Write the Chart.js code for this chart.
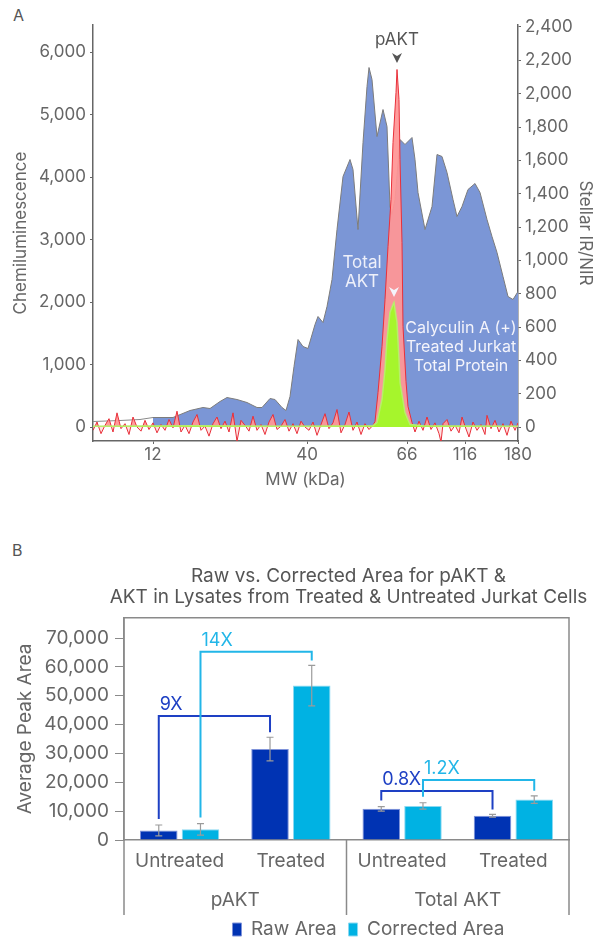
<!DOCTYPE html>
<html>
<head>
<meta charset="utf-8">
<script src="https://cdn.jsdelivr.net/npm/chart.js@4.4.0/dist/chart.umd.min.js"></script>
<style>
  html, body { margin: 0; padding: 0; background: #fff; }
  body { width: 597px; height: 938px; position: relative; overflow: hidden; font-family: Inter, "Noto Sans", sans-serif; }
  .panel { position: absolute; font-size: 16px; color: #555; line-height: 19px; }
  #wrapA { position: absolute; left: 0; top: 0; width: 597px; height: 500px; }
  #wrapB { position: absolute; left: 0; top: 530px; width: 597px; height: 419px; }
</style>
</head>
<body>
<div class="panel" style="left:13px;top:6px">A</div>
<div class="panel" style="left:12px;top:541px">B</div>
<div id="wrapA"><canvas id="chartA" width="597" height="500"></canvas></div>
<div id="wrapB"><canvas id="chartB" width="597" height="419"></canvas></div>
<script>
// ---------- panel A data ----------
// x is relative mobility along the capillary, MW labels sit at fixed marker positions
var mwTickPos = [60, 214, 314, 372, 425];
var mwTickLabels = ['12', '40', '66', '116', '180'];
var chemiTicks = [0, 1000, 2000, 3000, 4000, 5000, 6000];
var irTicks = [0, 200, 400, 600, 800, 1000, 1200, 1400, 1600, 1800, 2000, 2200, 2400];

// trace before the 12 kDa marker (outline only)
var preX = [0, 27, 47, 60];
var preY = [88, 104, 120, 152];

// Total AKT, chemiluminescence
var aktX = [60, 80, 97, 110, 117, 127, 134, 144, 154, 164, 169, 177, 182, 189, 193, 197, 201, 205, 210, 215,
  222, 225, 230, 234, 239, 244, 250, 257, 260, 265, 270, 274, 276, 279, 284, 290, 294, 297, 299, 302,
  307, 312, 319, 322, 325, 332, 339, 344, 349, 354, 360, 364, 369, 375, 382, 387, 394, 399, 404, 410,
  415, 420, 425];
var aktY = [152, 152, 264, 312, 296, 408, 472, 440, 392, 312, 312, 456, 440, 312, 264, 488, 968, 1400, 1288, 1256,
  1640, 1768, 1672, 1928, 2360, 3160, 4008, 4280, 4120, 3160, 4552, 5448, 5752, 5560, 4648, 5080, 4808, 3528, 3400, 3640,
  4600, 4520, 4632, 4280, 3752, 3160, 3528, 4360, 4328, 4072, 3640, 3368, 3528, 3800, 3896, 3752, 3320, 3048, 2792, 2408,
  2088, 2040, 2168];

// pAKT, Stellar IR/NIR
var pAktX = [0, 4, 8, 12, 16, 20, 24, 28, 32, 36, 40, 44, 48, 52, 56, 60, 64, 68, 72, 76,
  80, 84, 88, 92, 96, 100, 104, 108, 112, 116, 120, 124, 128, 132, 136, 140, 144, 148, 152, 156,
  160, 164, 168, 172, 176, 180, 184, 188, 192, 196, 200, 204, 208, 212, 216, 220, 224, 228, 232, 236,
  240, 244, 248, 252, 256, 260, 264, 268, 272, 276, 280,
  282, 285, 289, 292, 295, 298, 300, 303, 304, 306, 307, 309, 310, 313, 315, 319,
  322, 326, 330, 334, 338, 342, 346, 348, 350, 354, 358, 362, 366, 369, 372, 376, 380, 384, 388, 392,
  394, 398, 402, 406, 410, 414, 418, 422, 425];
var pAktY = [-20, 30, -40, 10, 50, -30, 85, -10, 20, -45, 60, 0, -25, 40, -15, 25, -35, 15, -20, 45,
  -5, 95, -30, 10, -40, 30, 75, -20, 5, -55, 20, 60, -10, 35, -30, 85, -85, 40, 10, -25,
  65, -20, 15, -45, 30, 75, -15, 5, 45, -25, 20, -40, 35, 0, -20, 30, -50, 15, 80, -10,
  25, 105, -35, 15, 90, -20, 30, -45, 20, -15, 10,
  33, 207, 483, 765, 1083, 1365, 1707, 2007, 2145, 1965, 1605, 1107, 603, 273, 123, 27,
  -30, 35, -20, 60, -15, 25, -40, -90, 20, 45, -25, 10, -35, 60, 5, -60, 30, -20, 15, -45,
  70, -10, 40, -30, 20, -50, 35, -20, 25];

// total protein, Stellar IR/NIR
var protX = [0, 100, 200, 280, 284, 289, 292, 294, 297, 300, 301, 304, 306, 307, 309, 312, 317, 330, 425];
var protY = [5, 8, 5, 8, 27, 165, 345, 525, 687, 735, 747, 627, 405, 267, 195, 87, 15, 8, 5];

// ---------- panel B data ----------
var conditions = ['Untreated', 'Treated', 'Untreated', 'Treated'];
var groupLabels = ['pAKT', 'Total AKT'];
var rawArea = [3300, 31500, 10800, 8400];
var rawErr = [1900, 4100, 800, 450];
var correctedArea = [3700, 53500, 11800, 14000];
var correctedErr = [2000, 7000, 1100, 1300];
var foldLabels = ['9X', '14X', '0.8X', '1.2X'];
var areaTicks = [0, 10000, 20000, 30000, 40000, 50000, 60000, 70000];

Chart.defaults.font.family = 'Inter, "Noto Sans", sans-serif';
Chart.defaults.color = '#666';

function pts(xs, ys) {
  return xs.map(function (v, i) { return { x: v, y: ys[i] }; });
}

function arrowHead(ctx, x, y, color) {
  ctx.fillStyle = color;
  ctx.beginPath();
  ctx.moveTo(x - 5, y);
  ctx.lineTo(x, y + 3);
  ctx.lineTo(x + 5, y);
  ctx.lineTo(x, y + 10);
  ctx.closePath();
  ctx.fill();
}

var panelANotes = {
  id: 'panelANotes',
  afterDatasetsDraw: function (chart) {
    var ctx = chart.ctx, x = chart.scales.x, top = chart.chartArea.top;
    var peak = x.getPixelForValue(304);
    ctx.save();
    ctx.textAlign = 'center';
    ctx.textBaseline = 'middle';
    ctx.fillStyle = '#555';
    ctx.font = '17px Inter, "Noto Sans", sans-serif';
    ctx.fillText('pAKT', peak, top + 15);
    arrowHead(ctx, peak, top + 28, '#555');

    ctx.fillStyle = '#eef0fa';
    var akt = x.getPixelForValue(269);
    ctx.fillText('Total', akt, top + 238);
    ctx.fillText('AKT', akt, top + 257);
    arrowHead(ctx, x.getPixelForValue(301), top + 262, '#f4f4fb');

    ctx.font = '16px Inter, "Noto Sans", sans-serif';
    var cx = x.getPixelForValue(368);
    ctx.fillText('Calyculin A (+)', cx, top + 303);
    ctx.fillText('Treated Jurkat', cx, top + 322);
    ctx.fillText('Total Protein', cx, top + 341);
    ctx.restore();
  }
};

new Chart(document.getElementById('chartA'), {
  type: 'line',
  data: {
    datasets: [
      {
        label: 'Total Protein',
        data: pts(protX, protY),
        yAxisID: 'y2',
        borderColor: '#b8ee6c',
        borderWidth: 1.5,
        backgroundColor: '#a6f52c',
        fill: { target: 'origin', above: '#a6f52c', below: 'rgba(0,0,0,0)' },
        pointRadius: 0
      },
      {
        label: 'pAKT',
        data: pts(pAktX, pAktY),
        yAxisID: 'y2',
        borderColor: '#e8303a',
        borderWidth: 1,
        fill: { target: 'origin', above: 'rgba(255,150,150,0.94)', below: 'rgba(255,170,170,0.35)' },
        pointRadius: 0
      },
      {
        label: 'Total AKT',
        data: pts(aktX, aktY),
        yAxisID: 'y',
        borderColor: '#7c7c7c',
        borderWidth: 1,
        backgroundColor: '#7b96d6',
        fill: 'origin',
        pointRadius: 0
      },
      {
        label: 'Pre',
        data: pts(preX, preY),
        yAxisID: 'y',
        borderColor: '#8a8a8a',
        borderWidth: 1,
        fill: false,
        pointRadius: 0
      }
    ]
  },
  options: {
    responsive: false,
    animation: false,
    layout: { padding: { top: 25, left: 0, right: 0, bottom: 0 } },
    plugins: { legend: { display: false }, tooltip: { enabled: false } },
    scales: {
      x: {
        type: 'linear', min: 0, max: 425,
        afterBuildTicks: function (s) { s.ticks = mwTickPos.map(function (v) { return { value: v }; }); },
        afterFit: function (s) { s.height = 59; },
        ticks: {
          autoSkip: false, maxRotation: 0, padding: 1, color: '#666', font: { size: 17 },
          callback: function (v) { return mwTickLabels[mwTickPos.indexOf(v)]; }
        },
        grid: { drawOnChartArea: false, drawTicks: true, tickLength: 3, color: '#666' },
        border: { color: '#666', width: 1.5 },
        title: { display: true, text: 'MW (kDa)', color: '#666', font: { size: 17 }, padding: { top: 0, bottom: 10 } }
      },
      y: {
        position: 'left', min: -224, max: 6432,
        afterBuildTicks: function (s) { s.ticks = chemiTicks.map(function (v) { return { value: v }; }); },
        afterFit: function (s) { s.width = 93; },
        ticks: { padding: 4, color: '#666', font: { size: 17 } },
        grid: { drawOnChartArea: false, drawTicks: true, tickLength: 3, color: '#666' },
        border: { color: '#666', width: 1.5 },
        title: { display: true, text: 'Chemiluminescence', color: '#666', font: { size: 17 }, padding: { top: 11, bottom: 0 } }
      },
      y2: {
        position: 'right', min: -84, max: 2412,
        afterBuildTicks: function (s) { s.ticks = irTicks.map(function (v) { return { value: v }; }); },
        afterFit: function (s) { s.width = 79; },
        ticks: { padding: 4, color: '#666', font: { size: 17 } },
        grid: { drawOnChartArea: false, drawTicks: true, tickLength: 3, color: '#666' },
        border: { color: '#666', width: 1.5 },
        title: { display: true, text: 'Stellar IR/NIR', color: '#666', font: { size: 17 }, padding: { top: 2, bottom: 0 } }
      }
    }
  },
  plugins: [panelANotes]
});

// ---------- panel B ----------
var panelBMarks = {
  id: 'panelBMarks',
  afterLayout: function (chart) {
    // legend in the reference sits a little right of the plot centre
    if (chart.legend) { chart.legend.left += 22; chart.legend.right += 22; }
    // let the title run wider than the plot so the long line is not squeezed
    if (chart.titleBlock) { chart.titleBlock.left -= 40; chart.titleBlock.right += 44; }
  },
  afterDatasetsDraw: function (chart, args, opts) {
    var ctx = chart.ctx, a = chart.chartArea, x = chart.scales.x, y = chart.scales.y;
    var vals = [rawArea, correctedArea];
    var errs = [rawErr, correctedErr];
    ctx.save();

    // error bars
    ctx.strokeStyle = '#9b9b9b';
    ctx.lineWidth = 1.2;
    [0, 1].forEach(function (d) {
      chart.getDatasetMeta(d).data.forEach(function (bar, i) {
        var t = y.getPixelForValue(vals[d][i] + errs[d][i]);
        var b = y.getPixelForValue(vals[d][i] - errs[d][i]);
        ctx.beginPath();
        ctx.moveTo(bar.x, t); ctx.lineTo(bar.x, b);
        ctx.moveTo(bar.x - 3.5, t); ctx.lineTo(bar.x + 3.5, t);
        ctx.moveTo(bar.x - 3.5, b); ctx.lineTo(bar.x + 3.5, b);
        ctx.stroke();
      });
    });

    // fold-change brackets
    opts.brackets.forEach(function (br, k) {
      var meta = chart.getDatasetMeta(br.ds);
      var x1 = meta.data[br.from].x, x2 = meta.data[br.to].x;
      var yl = y.getPixelForValue(br.level);
      var y1 = y.getPixelForValue(vals[br.ds][br.from] + errs[br.ds][br.from]) - 6;
      var y2 = y.getPixelForValue(vals[br.ds][br.to] + errs[br.ds][br.to]) - 5;
      ctx.strokeStyle = br.color;
      ctx.lineWidth = 2;
      ctx.beginPath();
      ctx.moveTo(x1, y1); ctx.lineTo(x1, yl); ctx.lineTo(x2, yl); ctx.lineTo(x2, y2);
      ctx.stroke();
      ctx.fillStyle = br.color;
      ctx.font = '18px Inter, "Noto Sans", sans-serif';
      ctx.textAlign = 'left';
      ctx.textBaseline = 'alphabetic';
      ctx.fillText(foldLabels[k], x1 + 1, yl - 6);
    });

    // frame and group separators
    var low = a.bottom + 75;
    var mid = (x.getPixelForValue(1) + x.getPixelForValue(2)) / 2;
    ctx.strokeStyle = '#8a8a8a';
    ctx.lineWidth = 1.5;
    ctx.beginPath();
    ctx.moveTo(a.left, low); ctx.lineTo(a.left, a.top); ctx.lineTo(a.right, a.top); ctx.lineTo(a.right, low);
    ctx.moveTo(mid, a.bottom); ctx.lineTo(mid, low);
    ctx.stroke();

    ctx.fillStyle = '#666';
    ctx.font = '19px Inter, "Noto Sans", sans-serif';
    ctx.textAlign = 'center';
    ctx.textBaseline = 'middle';
    ctx.fillText(groupLabels[0], (x.getPixelForValue(0) + x.getPixelForValue(1)) / 2, a.bottom + 60);
    ctx.fillText(groupLabels[1], (x.getPixelForValue(2) + x.getPixelForValue(3)) / 2, a.bottom + 60);
    ctx.restore();
  }
};

new Chart(document.getElementById('chartB'), {
  type: 'bar',
  data: {
    labels: conditions,
    datasets: [
      { label: 'Raw Area', data: rawArea, backgroundColor: '#0033b3', borderColor: '#7f93da', borderWidth: 1 },
      { label: 'Corrected Area', data: correctedArea, backgroundColor: '#00b2e3', borderColor: '#8bd9f1', borderWidth: 1 }
    ]
  },
  options: {
    responsive: false,
    animation: false,
    layout: { padding: { top: 0, left: 0, right: 28, bottom: 0 } },
    datasets: { bar: { categoryPercentage: 0.75, barPercentage: 0.9 } },
    plugins: {
      tooltip: { enabled: false },
      title: {
        display: true, fullSize: false,
        text: ['Raw vs. Corrected Area for pAKT &', 'AKT in Lysates from Treated & Untreated Jurkat Cells'],
        color: '#555', font: { size: 19, weight: 'normal', lineHeight: 1.1 },
        padding: { top: 36, bottom: 10 }
      },
      legend: {
        position: 'bottom', fullSize: false,
        labels: { boxWidth: 9, boxHeight: 13, padding: 12, color: '#666', font: { size: 19 } }
      },
      panelBMarks: {
        brackets: [
          { ds: 0, from: 0, to: 1, level: 43000, color: '#1e40c4' },
          { ds: 1, from: 0, to: 1, level: 65200, color: '#22b6e8' },
          { ds: 0, from: 2, to: 3, level: 17000, color: '#1e40c4' },
          { ds: 1, from: 2, to: 3, level: 20800, color: '#22b6e8' }
        ]
      }
    },
    scales: {
      x: {
        afterFit: function (s) { s.height = 68; },
        ticks: { padding: 10, color: '#666', font: { size: 19 } },
        grid: { display: false, drawTicks: false },
        border: { color: '#8a8a8a', width: 1.5 }
      },
      y: {
        min: 0, max: 77000,
        afterBuildTicks: function (s) { s.ticks = areaTicks.map(function (v) { return { value: v }; }); },
        afterFit: function (s) { s.width = 124; },
        ticks: { padding: 6, color: '#666', font: { size: 19 } },
        grid: { drawOnChartArea: false, drawTicks: true, tickLength: 9, color: '#8a8a8a' },
        border: { color: '#8a8a8a', width: 1.5 },
        title: { display: true, text: 'Average Peak Area', color: '#666', font: { size: 19 }, padding: { top: 14, bottom: 0 } }
      }
    }
  },
  plugins: [panelBMarks]
});
</script>
</body>
</html>
